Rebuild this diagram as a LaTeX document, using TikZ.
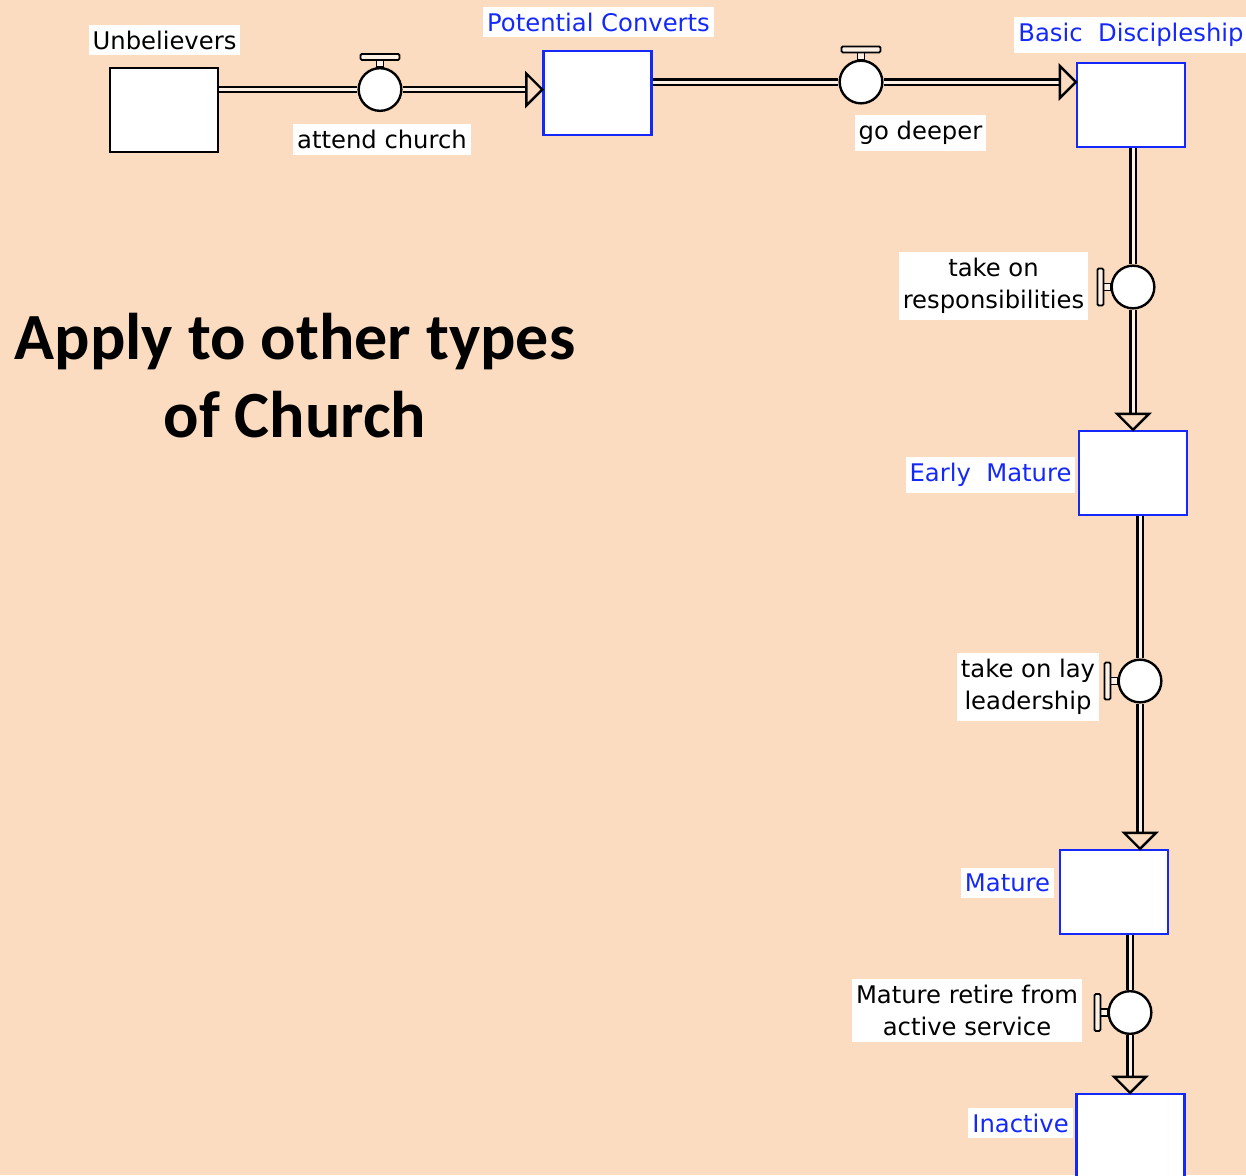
\documentclass[tikz,border=0pt]{standalone}
\usepackage{fontspec}
\usepackage{tikz}
\usetikzlibrary{calc,decorations.markings}
\newfontfamily\lblfont{DejaVu Sans}
\newfontfamily\titlefont{Carlito}
\definecolor{bg}{RGB}{251,220,193}
\definecolor{pipein}{RGB}{253,240,228}
\definecolor{stockblue}{RGB}{20,40,250}
\tikzset{
  stock/.style={draw, fill=white, line width=1.8pt, minimum width=81pt, minimum height=63pt, inner sep=0pt},
  bluestock/.style={stock, draw=stockblue},
  valve/.style={circle, draw, fill=white, line width=1.8pt, minimum size=32pt, inner sep=0pt},
  handle/.style={draw, fill=pipein, line width=1.4pt},
  lbl/.style={fill=white, inner xsep=3pt, inner ysep=4.5pt, font=\lblfont\fontsize{18.2}{24}\selectfont, align=center},
  stocklbl/.style={lbl, text=stockblue},
  pipe/.style={draw, line width=1.6pt, double=pipein, double distance=2.25pt},
  flow/.style={pipe, shorten >=12pt, postaction={decorate, decoration={markings, mark=at position 1 with {\filldraw[fill=bg, line width=1.8pt] (0,0) -- (-16,16) -- (-16,-16) -- cycle;}}}}
}
\begin{document}
\begin{tikzpicture}[x=0.75pt, y=-0.75pt]
\fill[bg] (0,0) rectangle (1246,1175);
\useasboundingbox (0,0) rectangle (1246,1175);
\node[stock] (ub) at (164,110) {};
\node[bluestock] (pc) at (597.5,93) {};
\node[bluestock] (bd) at (1131,105) {};
\node[bluestock] (em) at (1133,473) {};
\node[bluestock] (ma) at (1114,892) {};
\node[bluestock] (in) at (1130.5,1136) {};
\node[stocklbl] (ubl) at (164.5,40) {\textcolor{black}{Unbelievers}};
\node[stocklbl] (pcl) at (598.5,22) {Potential Converts};
\node[stocklbl] (bdl) at (1131,35) {Basic\ \ Discipleship};
\node[stocklbl] (eml) at (990.5,475) {Early\ \ Mature};
\node[stocklbl] (mal) at (1007.5,883) {Mature};
\node[stocklbl] (inl) at (1020.5,1123) {Inactive};
\node[valve] (ac) at (380,89.5) {};
\node[valve] (gd) at (861,82) {};
\node[valve] (tr) at (1133,287) {};
\node[valve] (tl) at (1140,681) {};
\node[valve] (mr) at (1130,1012.5) {};
\node[lbl] (acl) at (382,139.5) {attend church};
\node[lbl] (gdl) at (920.5,133) {go deeper};
\node[lbl] (trl) at (993.5,286) {take on\\responsibilities};
\node[lbl] (tll) at (1028,687) {take on lay\\leadership};
\node[lbl] (mrl) at (967,1010.5) {Mature retire from\\active service};
\draw[pipe] (ub.east |- ac) -- (ac);
\draw[flow] (ac) -- (pc.west |- ac);
\draw[pipe] (pc.east |- gd) -- (gd);
\draw[flow] (gd) -- (bd.west |- gd);
\draw[pipe] (bd.south -| tr) -- (tr);
\draw[flow] (tr) -- (tr |- em.north);
\draw[pipe] (em.south -| tl) -- (tl);
\draw[flow] (tl) -- (tl |- ma.north);
\draw[pipe] (ma.south -| mr) -- (mr);
\draw[flow] (mr) -- (mr |- in.north);
\draw[handle] ($(ac.north)+(-3.5,0)$) rectangle ++(7,-7);
\draw[handle, rounded corners=1pt] ($(ac.north)+(-19.5,-7)$) rectangle ++(39,-6);
\draw[handle] ($(gd.north)+(-3.5,0)$) rectangle ++(7,-7);
\draw[handle, rounded corners=1pt] ($(gd.north)+(-19.5,-7)$) rectangle ++(39,-6);
\draw[handle] ($(tr.west)+(0,-3.5)$) rectangle ++(-7,7);
\draw[handle, rounded corners=1pt] ($(tr.west)+(-7,-18.5)$) rectangle ++(-6,37);
\draw[handle] ($(tl.west)+(0,-3.5)$) rectangle ++(-7,7);
\draw[handle, rounded corners=1pt] ($(tl.west)+(-7,-18.5)$) rectangle ++(-6,37);
\draw[handle] ($(mr.west)+(0,-3.5)$) rectangle ++(-7,7);
\draw[handle, rounded corners=1pt] ($(mr.west)+(-7,-18.5)$) rectangle ++(-6,37);
\node[font=\titlefont\bfseries\fontsize{49.5}{58.5}\selectfont, align=center] (title) at (295,376) {Apply to other types\\of Church};
\end{tikzpicture}
\end{document}
